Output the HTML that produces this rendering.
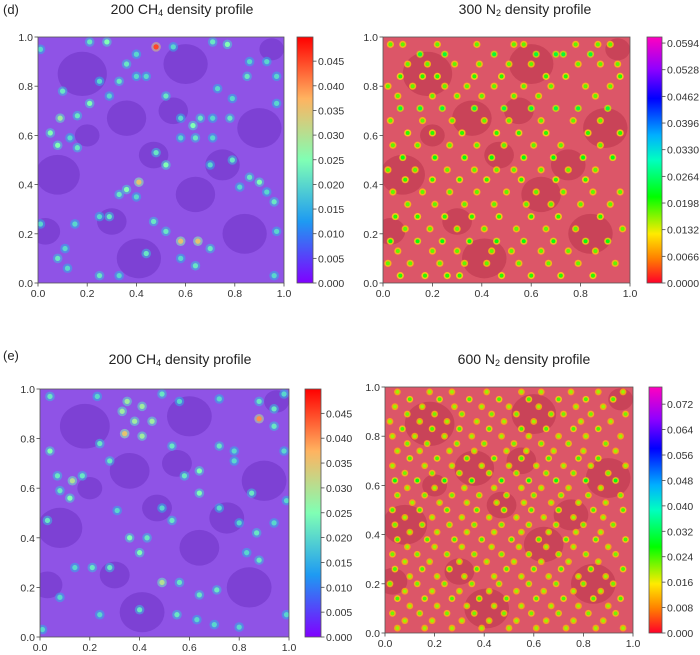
<!DOCTYPE html>
<html><head><meta charset="utf-8"><style>
html,body{margin:0;padding:0;background:#fff;}
svg{display:block;font-family:"Liberation Sans",sans-serif;}
</style></head><body>
<svg id="fig" width="700" height="655" viewBox="0 0 700 655" xmlns="http://www.w3.org/2000/svg">
<defs>
<linearGradient id="cmapCH4" x1="0" y1="1" x2="0" y2="0">
<stop offset="0" stop-color="#8000ff"/><stop offset="0.25" stop-color="#1e9af2"/><stop offset="0.5" stop-color="#80ffb4"/><stop offset="0.75" stop-color="#ffb360"/><stop offset="1" stop-color="#ff0000"/>
</linearGradient>
<linearGradient id="cmapN2" x1="0" y1="1" x2="0" y2="0">
<stop offset="0" stop-color="#ff0029"/><stop offset="0.1" stop-color="#ff8000"/><stop offset="0.2" stop-color="#ffeb00"/><stop offset="0.35" stop-color="#00ff00"/><stop offset="0.5" stop-color="#00ffc0"/><stop offset="0.6" stop-color="#00b0ff"/><stop offset="0.75" stop-color="#0000ff"/><stop offset="0.87" stop-color="#9000ff"/><stop offset="1" stop-color="#ff00bf"/>
</linearGradient>
</defs>
</svg>
<script>
// ---- data ----
const textureX = [0.18,0.60,0.90,0.36,0.08,0.64,0.84,0.41,0.03,0.47,0.30,0.75,0.95,0.55,0.20];
const textureY = [0.85,0.89,0.63,0.67,0.44,0.36,0.20,0.10,0.21,0.52,0.25,0.48,0.95,0.70,0.60];
const textureR = [0.10,0.09,0.09,0.08,0.09,0.08,0.09,0.09,0.06,0.06,0.06,0.07,0.05,0.06,0.05];

const dX = [0.01,0.21,0.28,0.48,0.55,0.71,0.77,0.86,0.93,0.36,0.40,0.33,0.40,0.44,0.85,0.97,0.25,0.10,0.73,0.79,0.52,0.21,0.29,0.16,0.09,0.05,0.13,0.16,0.08,0.58,0.63,0.66,0.71,0.78,0.97,0.58,0.64,0.71,0.48,0.52,0.70,0.79,0.86,0.90,0.82,0.93,0.41,0.36,0.33,0.40,0.25,0.29,0.15,0.47,0.52,0.58,0.65,0.70,0.11,0.08,0.12,0.25,0.33,0.44,0.58,0.64,0.01,0.96,0.96,0.97];
const dY = [0.95,0.98,0.98,0.96,0.96,0.98,0.97,0.90,0.90,0.89,0.93,0.82,0.84,0.84,0.84,0.84,0.82,0.78,0.79,0.75,0.76,0.73,0.76,0.68,0.67,0.61,0.59,0.55,0.56,0.67,0.64,0.67,0.67,0.67,0.73,0.59,0.59,0.59,0.53,0.48,0.48,0.50,0.43,0.41,0.39,0.37,0.41,0.38,0.36,0.35,0.27,0.27,0.24,0.25,0.21,0.17,0.17,0.14,0.14,0.10,0.06,0.03,0.03,0.12,0.10,0.07,0.24,0.03,0.33,0.21];
const dV = [0.020,0.022,0.025,0.045,0.020,0.022,0.025,0.020,0.020,0.022,0.020,0.022,0.020,0.020,0.022,0.020,0.020,0.022,0.020,0.020,0.022,0.025,0.020,0.022,0.028,0.025,0.020,0.022,0.025,0.020,0.025,0.022,0.020,0.022,0.020,0.020,0.022,0.020,0.022,0.025,0.020,0.022,0.022,0.025,0.020,0.020,0.035,0.025,0.022,0.020,0.020,0.022,0.020,0.022,0.022,0.035,0.035,0.022,0.020,0.022,0.020,0.022,0.020,0.022,0.020,0.022,0.020,0.020,0.022,0.020];

const eX = [0.04,0.23,0.35,0.41,0.49,0.56,0.72,0.88,0.94,0.98,0.33,0.38,0.45,0.88,0.94,0.34,0.41,0.24,0.04,0.53,0.72,0.78,0.98,0.28,0.64,0.78,0.07,0.13,0.17,0.12,0.08,0.58,0.64,0.72,0.85,0.99,0.49,0.31,0.03,0.53,0.80,0.94,0.36,0.43,0.40,0.87,0.83,0.88,0.14,0.21,0.28,0.49,0.56,0.64,0.71,0.08,0.24,0.40,0.55,0.63,0.70,0.80,0.01,0.99];
const eY = [0.97,0.97,0.95,0.93,0.98,0.95,0.96,0.95,0.92,0.98,0.91,0.87,0.87,0.88,0.85,0.82,0.81,0.78,0.75,0.77,0.77,0.75,0.75,0.71,0.67,0.71,0.65,0.63,0.65,0.56,0.59,0.65,0.58,0.52,0.58,0.55,0.52,0.51,0.47,0.47,0.46,0.46,0.40,0.40,0.34,0.42,0.34,0.31,0.28,0.28,0.28,0.22,0.22,0.17,0.19,0.16,0.09,0.11,0.09,0.07,0.05,0.04,0.03,0.09];
const eV = [0.022,0.020,0.028,0.028,0.022,0.020,0.020,0.022,0.022,0.020,0.028,0.028,0.028,0.040,0.022,0.035,0.028,0.022,0.025,0.022,0.022,0.020,0.020,0.022,0.025,0.020,0.022,0.030,0.022,0.025,0.022,0.022,0.025,0.020,0.022,0.020,0.020,0.020,0.022,0.022,0.020,0.020,0.025,0.022,0.025,0.022,0.020,0.022,0.020,0.022,0.022,0.030,0.022,0.022,0.022,0.020,0.020,0.022,0.022,0.020,0.020,0.020,0.020,0.020];

const aRowsY = [0.97,0.93,0.89,0.84,0.80,0.76,0.71,0.66,0.61,0.56,0.51,0.46,0.42,0.37,0.32,0.27,0.22,0.17,0.13,0.08,0.03];
const aRowsX = [[0.03,0.08,0.22,0.38,0.53,0.57,0.78,0.87,0.92],[0.15,0.25,0.45,0.62,0.70,0.73,0.84],[0.10,0.18,0.29,0.39,0.51,0.60,0.79,0.88,0.95],[0.07,0.16,0.22,0.37,0.48,0.66,0.74,0.96],[0.02,0.12,0.25,0.34,0.45,0.57,0.68,0.82,0.92],[0.06,0.20,0.30,0.40,0.53,0.63,0.86],[0.07,0.15,0.24,0.37,0.49,0.60,0.70,0.79,0.91],[0.03,0.16,0.28,0.41,0.51,0.64,0.77,0.88],[0.10,0.20,0.32,0.46,0.55,0.66,0.83,0.96],[0.04,0.14,0.27,0.38,0.49,0.61,0.72,0.88],[0.08,0.21,0.33,0.44,0.57,0.69,0.81,0.93],[0.02,0.13,0.26,0.37,0.46,0.53,0.64,0.75,0.86],[0.09,0.20,0.31,0.42,0.56,0.70,0.82],[0.04,0.16,0.27,0.38,0.50,0.62,0.73,0.85,0.96],[0.10,0.21,0.33,0.45,0.58,0.68,0.80,0.92],[0.05,0.14,0.25,0.36,0.47,0.60,0.71,0.88],[0.09,0.19,0.30,0.41,0.54,0.66,0.78,0.97],[0.03,0.14,0.24,0.35,0.46,0.57,0.69,0.82,0.91],[0.06,0.20,0.30,0.44,0.52,0.64,0.75,0.86],[0.02,0.11,0.23,0.33,0.42,0.55,0.67,0.79,0.94],[0.07,0.17,0.26,0.31,0.48,0.60,0.72,0.85]];
const aRowsV = [0.018,0.024,0.018,0.020,0.018,0.018,0.024,0.018,0.020,0.018,0.022,0.018,0.020,0.018,0.018,0.020,0.018,0.022,0.018,0.018,0.020];

const bRowsY = [0.98,0.95,0.92,0.89,0.86,0.83,0.80,0.77,0.74,0.71,0.68,0.65,0.62,0.59,0.56,0.53,0.50,0.47,0.44,0.41,0.38,0.35,0.32,0.29,0.26,0.23,0.20,0.17,0.14,0.11,0.08,0.05,0.02];
const bRowsX = [[0.05,0.18,0.27,0.41,0.55,0.63,0.75,0.86,0.96],[0.10,0.22,0.34,0.46,0.58,0.70,0.81,0.92],[0.04,0.15,0.28,0.39,0.50,0.62,0.77,0.88],[0.09,0.20,0.31,0.43,0.53,0.67,0.72,0.83,0.97],[0.02,0.14,0.25,0.37,0.48,0.60,0.79,0.91],[0.07,0.19,0.30,0.42,0.55,0.65,0.76,0.86],[0.03,0.12,0.24,0.35,0.47,0.58,0.70,0.81,0.95],[0.09,0.17,0.29,0.40,0.52,0.63,0.74,0.89],[0.05,0.14,0.26,0.36,0.49,0.57,0.68,0.80,0.93],[0.10,0.21,0.33,0.44,0.55,0.66,0.78,0.86],[0.03,0.16,0.27,0.39,0.50,0.61,0.72,0.83,0.97],[0.08,0.19,0.30,0.42,0.53,0.65,0.76,0.90],[0.04,0.13,0.24,0.35,0.47,0.58,0.69,0.81,0.93],[0.09,0.20,0.32,0.44,0.55,0.63,0.74,0.87],[0.05,0.16,0.27,0.38,0.49,0.60,0.71,0.82,0.95],[0.11,0.22,0.33,0.45,0.56,0.67,0.78,0.89],[0.03,0.14,0.25,0.37,0.48,0.59,0.70,0.84,0.96],[0.08,0.19,0.31,0.42,0.53,0.64,0.76,0.88],[0.04,0.15,0.26,0.36,0.47,0.58,0.69,0.80,0.92],[0.10,0.21,0.33,0.44,0.55,0.66,0.77,0.87],[0.05,0.17,0.28,0.39,0.51,0.62,0.73,0.85,0.97],[0.09,0.20,0.31,0.43,0.54,0.65,0.76,0.90],[0.03,0.13,0.25,0.36,0.47,0.58,0.70,0.81,0.93],[0.08,0.18,0.30,0.41,0.52,0.63,0.74,0.86],[0.04,0.15,0.26,0.37,0.49,0.60,0.71,0.83,0.96],[0.10,0.21,0.32,0.44,0.55,0.66,0.78,0.89],[0.02,0.13,0.24,0.35,0.46,0.58,0.69,0.80,0.92],[0.08,0.19,0.30,0.42,0.53,0.64,0.76,0.87],[0.05,0.16,0.27,0.38,0.49,0.61,0.72,0.84,0.95],[0.10,0.21,0.33,0.44,0.55,0.67,0.78,0.90],[0.03,0.14,0.25,0.36,0.48,0.59,0.70,0.82,0.93],[0.08,0.19,0.31,0.42,0.53,0.65,0.76,0.88],[0.05,0.16,0.27,0.39,0.50,0.61,0.73,0.85,0.96]];
const bRowsV = [0.020,0.024,0.020,0.022,0.020,0.024,0.020,0.022,0.020,0.024,0.020,0.022,0.028,0.020,0.022,0.020,0.024,0.020,0.022,0.020,0.024,0.020,0.022,0.020,0.024,0.020,0.022,0.020,0.024,0.020,0.022,0.020,0.020];

const axisTicks = [0.0,0.2,0.4,0.6,0.8,1.0];
const tickLabels = ["0.0","0.2","0.4","0.6","0.8","1.0"];
const ch4CbTicks = [0.000,0.005,0.010,0.015,0.020,0.025,0.030,0.035,0.040,0.045];
const n2aCbTicks = [0.0000,0.0066,0.0132,0.0198,0.0264,0.0330,0.0396,0.0462,0.0528,0.0594];
const n2bCbTicks = [0.000,0.008,0.016,0.024,0.032,0.040,0.048,0.056,0.064,0.072];

// ---- drawing ----
const NS = "http://www.w3.org/2000/svg";
const svg = document.getElementById('fig');
function mk(tag, attrs, parent){ const e=document.createElementNS(NS,tag); for(const k in attrs) e.setAttribute(k,attrs[k]); (parent||svg).appendChild(e); return e; }
function lerpHex(a,b,t){const pa=[1,3,5].map(i=>parseInt(a.substr(i,2),16)),pb=[1,3,5].map(i=>parseInt(b.substr(i,2),16));return 'rgb('+pa.map((v,i)=>Math.round(v+(pb[i]-v)*t)).join(',')+')';}
function cmap(stops,t){t=Math.max(0,Math.min(1,t));for(let i=1;i<stops.length;i++){if(t<=stops[i][0]){const s=stops[i-1],e=stops[i];return lerpHex(s[1],e[1],(t-s[0])/(e[0]-s[0]));}}return stops[stops.length-1][1];}
const ch4Stops=[[0,'#8000ff'],[0.25,'#1e9af2'],[0.5,'#80ffb4'],[0.75,'#ffb360'],[1,'#ff0000']];
const n2Stops=[[0,'#ff0029'],[0.1,'#ff8000'],[0.2,'#ffeb00'],[0.35,'#00ff00'],[0.5,'#00ffc0'],[0.6,'#00b0ff'],[0.75,'#0000ff'],[0.87,'#9000ff'],[1,'#ff00bf']];

function panel(cfg){
  const g = mk('g',{});
  
  
  const X = v => cfg.l + v*(cfg.r-cfg.l);
  const Y = v => cfg.b - v*(cfg.b-cfg.t);
  const clipId = cfg.name+'-clip';
  const cp = mk('clipPath',{id:clipId},g); mk('rect',{x:cfg.l,y:cfg.t,width:cfg.r-cfg.l,height:cfg.b-cfg.t},cp);
  const plot = mk('g',{'clip-path':'url(#'+clipId+')'},g);
  
  
  mk('rect',{x:cfg.l,y:cfg.t,width:cfg.r-cfg.l,height:cfg.b-cfg.t,fill:cfg.base},plot);
  for(let i=0;i<textureX.length;i++){
    const c = mk('ellipse',{cx:X(textureX[i]),cy:Y(textureY[i]),rx:textureR[i]*(cfg.r-cfg.l),ry:textureR[i]*0.9*(cfg.b-cfg.t),fill:cfg.dark,opacity:0.85},plot);
    
    
  }
  const k = cfg.max;
  for(let i=0;i<cfg.xs.length;i++){
    const v=cfg.vs[i], cx=X(cfg.xs[i]), cy=Y(cfg.ys[i]);
    const halo = mk('circle',{cx:cx,cy:cy,r:cfg.rad,fill:cmap(cfg.stops,v*cfg.hf/k),opacity:cfg.ho},plot);
    
    
    const core = mk('circle',{cx:cx,cy:cy,r:cfg.rad*0.55,fill:cmap(cfg.stops,v/k)},plot);
    
    
  }
  mk('rect',{x:cfg.l,y:cfg.t,width:cfg.r-cfg.l,height:cfg.b-cfg.t,fill:'none',stroke:'#555','stroke-width':0.8},g);
  for(let i=0;i<axisTicks.length;i++){
    const tx=X(axisTicks[i]), ty=Y(axisTicks[i]);
    mk('line',{x1:tx,x2:tx,y1:cfg.b,y2:cfg.b+3.5,stroke:'#444','stroke-width':0.8},g);
    const xl = mk('text',{x:tx,y:cfg.b+14,'text-anchor':'middle','font-size':10.5,fill:'#333'},g); xl.textContent=tickLabels[i];
    
    
    mk('line',{x1:cfg.l-3.5,x2:cfg.l,y1:ty,y2:ty,stroke:'#444','stroke-width':0.8},g);
    const yl = mk('text',{x:cfg.l-5,y:ty+4,'text-anchor':'end','font-size':10.5,fill:'#333'},g); yl.textContent=tickLabels[i];
    
    
  }
  const cb = mk('rect',{x:cfg.cbx,y:cfg.t,width:cfg.cbw,height:cfg.b-cfg.t,fill:'url(#'+cfg.grad+')',stroke:'#555','stroke-width':0.8},g);
  
  
  const CY = v => cfg.b - v/k*(cfg.b-cfg.t);
  for(let i=0;i<cfg.cbTicks.length;i++){
    const y=CY(cfg.cbTicks[i]);
    mk('line',{x1:cfg.cbx+cfg.cbw,x2:cfg.cbx+cfg.cbw+3.5,y1:y,y2:y,stroke:'#444','stroke-width':0.8},g);
    const t = mk('text',{x:cfg.cbx+cfg.cbw+5,y:y+4,'font-size':10.5,fill:'#333'},g); t.textContent=cfg.cbTicks[i].toFixed(cfg.dec);
    
    
  }
  const title = mk('text',{x:cfg.tx,y:cfg.ty,'text-anchor':'middle','font-size':14,fill:'#222'},g);
  
  
  title.appendChild(document.createTextNode(cfg.t1));
  const sub = mk('tspan',{'font-size':9,dy:2},title); sub.textContent=cfg.sub;
  const rest = mk('tspan',{dy:-2},title); rest.textContent=' density profile';
}
function flat(rowsY,rowsX,rowsV){const xs=[],ys=[],vs=[];rowsX.forEach((r,i)=>r.forEach(x=>{xs.push(x);ys.push(rowsY[i]);vs.push(rowsV[i]);}));return {xs,ys,vs};}
const A=flat(aRowsY,aRowsX,aRowsV), B=flat(bRowsY,bRowsX,bRowsV);

panel({name:'panel-d-ch4',l:38,r:284,t:37,b:283,base:'#8f53e6',dark:'#7a3ed0',xs:dX,ys:dY,vs:dV,stops:ch4Stops,max:0.0499,rad:4.8,hf:0.75,ho:0.55,cbx:297,cbw:16,grad:'cmapCH4',cbTicks:ch4CbTicks,dec:3,tx:182,ty:14,t1:'200 CH',sub:'4'});
panel({name:'panel-d-n2',l:383,r:630,t:37,b:283,base:'#dc5668',dark:'#c64056',xs:A.xs,ys:A.ys,vs:A.vs,stops:n2Stops,max:0.0609,rad:3.6,hf:0.6,ho:0.75,cbx:647,cbw:15,grad:'cmapN2',cbTicks:n2aCbTicks,dec:4,tx:525,ty:14,t1:'300 N',sub:'2'});
panel({name:'panel-e-ch4',l:40,r:289,t:389,b:637,base:'#8f53e6',dark:'#7a3ed0',xs:eX,ys:eY,vs:eV,stops:ch4Stops,max:0.0499,rad:4.8,hf:0.75,ho:0.55,cbx:305,cbw:16,grad:'cmapCH4',cbTicks:ch4CbTicks,dec:3,tx:180,ty:364,t1:'200 CH',sub:'4'});
panel({name:'panel-e-n2',l:385,r:633,t:387,b:633,base:'#dc5668',dark:'#c64056',xs:B.xs,ys:B.ys,vs:B.vs,stops:n2Stops,max:0.0774,rad:3.4,hf:0.6,ho:0.75,cbx:649,cbw:13,grad:'cmapN2',cbTicks:n2bCbTicks,dec:3,tx:524,ty:364,t1:'600 N',sub:'2'});

const ld = mk('text',{x:3,y:14,'font-size':13,fill:'#222'}); ld.textContent='(d)';


const le = mk('text',{x:3,y:360,'font-size':13,fill:'#222'}); le.textContent='(e)';


</script>
</body></html>
